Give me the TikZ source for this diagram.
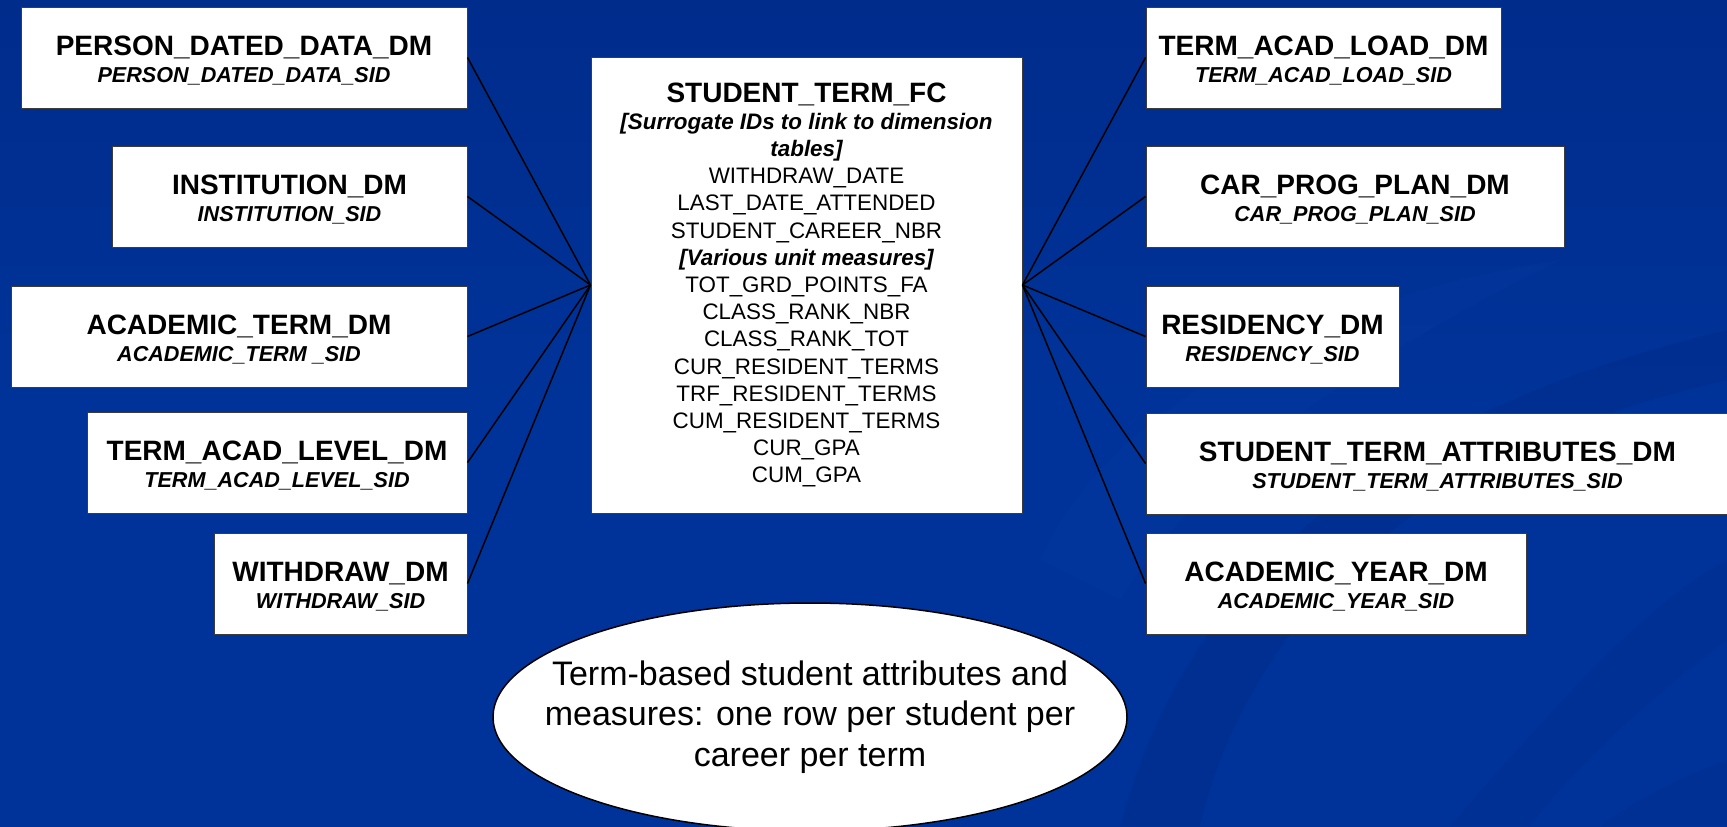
\documentclass[tikz,border=0pt]{standalone}
\usepackage{fontspec}
\setmainfont{Liberation Sans}
\usetikzlibrary{shapes.geometric}
\definecolor{bgblue}{RGB}{0,51,153}
\definecolor{bgtop}{RGB}{0,44,140}
\definecolor{swirl}{RGB}{0,40,130}
\definecolor{swirlhi}{RGB}{10,62,165}
\definecolor{boxline}{RGB}{60,60,60}
\newcommand\dmtitle{\fontsize{14}{13.6}\selectfont\bfseries}
\newcommand\dmsid{\fontsize{10.8}{13.6}\selectfont\bfseries\itshape}
\newcommand\fcbold{\bfseries\itshape}
\begin{document}
\begin{tikzpicture}[x=0.5pt,y=-0.5pt,
  dimbox/.style={draw=boxline, fill=white, line width=0.5pt, inner sep=0pt, minimum height=50.5pt},
  dimtext/.style={align=center, text=black, inner sep=0pt, font=\fontsize{10.8}{13.6}\selectfont},
  factbox/.style={draw=boxline, fill=white, line width=0.5pt, inner sep=0pt, align=center, text=black,
    font=\fontsize{11.2}{13.6}\selectfont},
  note/.style={ellipse, draw=black, fill=white, line width=0.75pt, inner sep=0pt,
    minimum width=317pt, minimum height=114pt},
  notetext/.style={align=center, text=black, inner sep=0pt, font=\fontsize{17}{20.3}\selectfont},
  link/.style={draw=black, line width=0.75pt}]
\useasboundingbox (0,0) rectangle (1727,826);
\clip (0,0) rectangle (1727,826);
% background
\shade[top color=bgtop, bottom color=bgblue, middle color=bgblue] (0,0) rectangle (1727,826);
\fill[swirl, opacity=0.3] (1120,826) .. controls (1180,600) and (1350,420) .. (1727,330)
  -- (1727,380) .. controls (1420,450) and (1250,620) .. (1200,826) -- cycle;
\fill[swirl, opacity=0.25] (1450,826) .. controls (1560,700) and (1650,600) .. (1727,560)
  -- (1727,640) .. controls (1660,690) and (1580,760) .. (1530,826) -- cycle;
\fill[swirlhi, opacity=0.2] (1040,560) .. controls (1100,420) and (1300,300) .. (1560,260)
  .. controls (1420,330) and (1220,440) .. (1120,600) -- cycle;
\fill[swirl, opacity=0.25] (1600,826) .. controls (1650,790) and (1700,770) .. (1727,760) -- (1727,826) -- cycle;

% dimension boxes, left
\node[dimbox, minimum width=223pt] (pdd) at (244,57.5) {};
\node[dimbox, minimum width=177.5pt] (inst) at (289.5,196.5) {};
\node[dimbox, minimum width=228pt] (acterm) at (239,336.5) {};
\node[dimbox, minimum width=190pt] (tal) at (277,462.5) {};
\node[dimbox, minimum width=126.5pt] (wd) at (340.5,583.5) {};
% dimension boxes, right
\node[dimbox, minimum width=177.5pt] (tload) at (1323.5,57.5) {};
\node[dimbox, minimum width=209pt] (cpp) at (1355,196.5) {};
\node[dimbox, minimum width=126.5pt] (res) at (1272.5,336.5) {};
\node[dimbox, minimum width=291.5pt] (sta) at (1437.5,463.5) {};
\node[dimbox, minimum width=190pt] (ay) at (1336,583.5) {};

% box texts
\node[dimtext] (pddt) at ([yshift=-1.5pt]pdd.center) {{\dmtitle PERSON\_DATED\_DATA\_DM}\\{\dmsid PERSON\_DATED\_DATA\_SID}};
\node[dimtext] (instt) at ([yshift=-1.5pt]inst.center) {{\dmtitle INSTITUTION\_DM}\\{\dmsid INSTITUTION\_SID}};
\node[dimtext] (actermt) at ([yshift=-1.5pt]acterm.center) {{\dmtitle ACADEMIC\_TERM\_DM}\\{\dmsid ACADEMIC\_TERM \_SID}};
\node[dimtext] (talt) at ([yshift=-1.5pt]tal.center) {{\dmtitle TERM\_ACAD\_LEVEL\_DM}\\{\dmsid TERM\_ACAD\_LEVEL\_SID}};
\node[dimtext] (wdt) at ([yshift=-1.5pt]wd.center) {{\dmtitle WITHDRAW\_DM}\\{\dmsid WITHDRAW\_SID}};
\node[dimtext] (tloadt) at ([yshift=-1.5pt]tload.center) {{\dmtitle TERM\_ACAD\_LOAD\_DM}\\{\dmsid TERM\_ACAD\_LOAD\_SID}};
\node[dimtext] (cppt) at ([yshift=-1.5pt]cpp.center) {{\dmtitle CAR\_PROG\_PLAN\_DM}\\{\dmsid CAR\_PROG\_PLAN\_SID}};
\node[dimtext] (rest) at ([yshift=-1.5pt]res.center) {{\dmtitle RESIDENCY\_DM}\\{\dmsid RESIDENCY\_SID}};
\node[dimtext] (stat) at ([yshift=-1.5pt]sta.center) {{\dmtitle STUDENT\_TERM\_ATTRIBUTES\_DM}\\{\dmsid STUDENT\_TERM\_ATTRIBUTES\_SID}};
\node[dimtext] (ayt) at ([yshift=-1.5pt]ay.center) {{\dmtitle ACADEMIC\_YEAR\_DM}\\{\dmsid ACADEMIC\_YEAR\_SID}};

% fact table
\node[factbox, minimum width=215.5pt, minimum height=228pt] (fc) at (806.5,285) {{\fontsize{14}{13.6}\selectfont\bfseries STUDENT\_TERM\_FC}\\
{\fcbold [Surrogate IDs to link to dimension}\\
{\fcbold tables]}\\
WITHDRAW\_DATE\\
LAST\_DATE\_ATTENDED\\
STUDENT\_CAREER\_NBR\\
{\fcbold [Various unit measures]}\\
TOT\_GRD\_POINTS\_FA\\
CLASS\_RANK\_NBR\\
CLASS\_RANK\_TOT\\
CUR\_RESIDENT\_TERMS\\
TRF\_RESIDENT\_TERMS\\
CUM\_RESIDENT\_TERMS\\
CUR\_GPA\\
CUM\_GPA};

% connectors
\foreach \b in {pdd,inst,acterm,tal,wd} \draw[link] (\b.east) -- (fc.west);
\foreach \b in {tload,cpp,res,sta,ay} \draw[link] (\b.west) -- (fc.east);

% note
\node[note] (nt) at (810,717) {};
\node[notetext] (ntx) at (nt.center) {Term-based student attributes and\\measures: one row per student per\\career per term};
\end{tikzpicture}
\end{document}
